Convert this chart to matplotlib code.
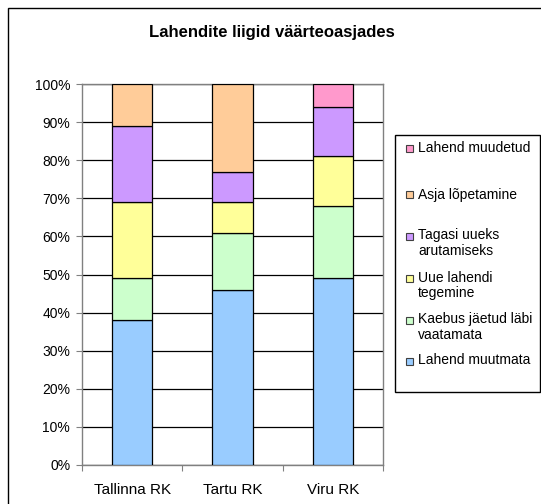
import matplotlib
matplotlib.use("Agg")
import matplotlib.pyplot as plt
import numpy as np
from matplotlib.patches import Rectangle

plt.rcParams['font.family'] = ['Liberation Sans', 'DejaVu Sans']

categories = ["Tallinna RK", "Tartu RK", "Viru RK"]
series_names = ["Lahend muutmata", "Kaebus jäetud läbi\nvaatamata", "Uue lahendi\ntegemine",
                "Tagasi uueks\narutamiseks", "Asja lõpetamine", "Lahend muudetud"]
lahend_muutmata = [38, 46, 49]
kaebus_jaetud = [11, 15, 19]
uue_lahendi = [20, 8, 13]
tagasi_uueks = [20, 8, 13]
asja_lopetamine = [11, 23, 0]
lahend_muudetud = [0, 0, 6]
series = [lahend_muutmata, kaebus_jaetud, uue_lahendi, tagasi_uueks, asja_lopetamine, lahend_muudetud]
colors = ["#99CCFF", "#CCFFCC", "#FFFF99", "#CC99FF", "#FFCC99", "#FF99CC"]
yticks = [0, 10, 20, 30, 40, 50, 60, 70, 80, 90, 100]

W, H = 541, 504
fig = plt.figure(figsize=(W / 100, H / 100), dpi=100)
fig.patches.append(Rectangle((8 / W, -0.1), 1.1, 1.1 - 8 / H, transform=fig.transFigure,
                             fill=False, edgecolor="black", linewidth=1.0))
ax = fig.add_axes([82 / W, 1 - 465 / H, 301 / W, 381 / H])

x = np.arange(len(categories)) + 0.5
bottom = np.zeros(len(categories))
for vals, col, name in zip(series, colors, series_names):
    v = np.array(vals, dtype=float)
    mask = v > 0
    ax.bar(x[mask], v[mask], bottom=bottom[mask], width=0.4, color=col, edgecolor="black",
           linewidth=0.9, zorder=3, label=name)
    bottom += v

ax.set_xlim(0, 3)
ax.set_ylim(0, 100)
ax.set_yticks(yticks)
ax.set_yticklabels([f"{t}%" for t in yticks], fontsize=10)
ax.set_xticks([0, 1, 2, 3])
ax.set_xticklabels([])
ax.set_xticks(x, minor=True)
ax.set_xticklabels(categories, minor=True, fontsize=11)
ax.tick_params(axis='x', which='minor', length=0, pad=13)
ax.tick_params(axis='x', which='major', length=4, color="#808080", direction='out')
ax.tick_params(axis='y', length=4.5, color="#808080", direction='out', pad=4)
ax.grid(axis='y', color='black', linewidth=0.9, zorder=1)
for s in ax.spines.values():
    s.set_color("#808080")
    s.set_linewidth(1.0)

fig.text(272 / W, 1 - 33 / H, "Lahendite liigid väärteoasjades", ha='center', va='center',
         fontsize=12, fontweight='bold')

# Legend (Excel-style layout: entries at fixed pitch, marker on first line)
leg_left, leg_top, leg_right, leg_bottom = 395, 135, 540, 392
fig.patches.append(Rectangle((leg_left / W, 1 - leg_bottom / H), (leg_right - leg_left) / W,
                             (leg_bottom - leg_top) / H, transform=fig.transFigure,
                             facecolor="white", edgecolor="black", linewidth=1.0))
entry_y = [148, 195, 236, 278, 320, 361]
for yy, col, name in zip(entry_y, colors[::-1], series_names[::-1]):
    fig.patches.append(Rectangle((406 / W, 1 - (yy + 3.5) / H), 7 / W, 7 / H,
                                 transform=fig.transFigure, facecolor=col,
                                 edgecolor="#404040", linewidth=0.8))
    fig.text(418 / W, 1 - (yy - 7.5) / H, name, ha='left', va='top', fontsize=10,
             linespacing=1.12)

fig.savefig("out.png", dpi=100)
